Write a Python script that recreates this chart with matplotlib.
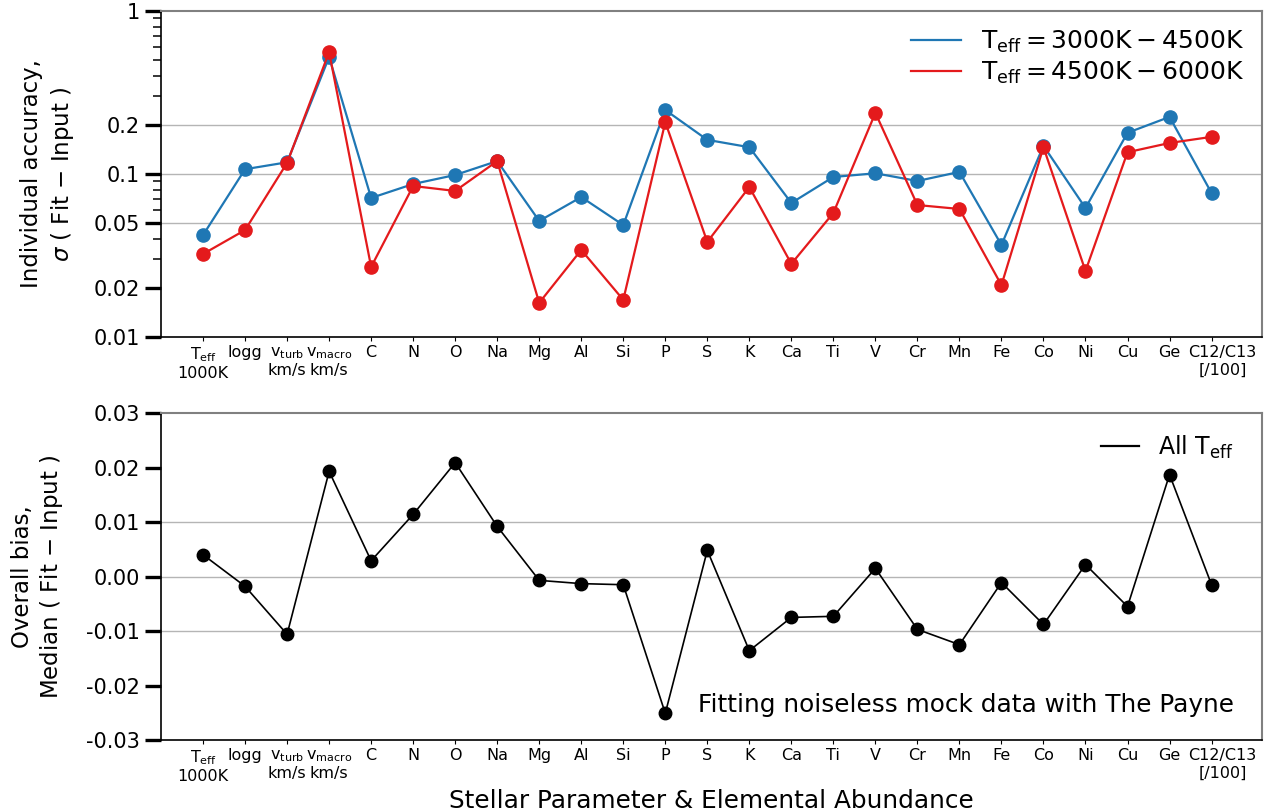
import matplotlib
matplotlib.use("Agg")
import matplotlib.pyplot as plt
from matplotlib.lines import Line2D
from matplotlib.ticker import FixedLocator, LogLocator, NullFormatter
from matplotlib.transforms import ScaledTranslation

# labels along the x axis
labels = [r"T$_{\rm eff}$" + "\n1000K", "logg", r"v$_{\rm turb}$" + "\nkm/s",
          r"v$_{\rm macro}$" + "\nkm/s", "C", "N", "O", "Na", "Mg", "Al", "Si",
          "P", "S", "K", "Ca", "Ti", "V", "Cr", "Mn", "Fe", "Co", "Ni", "Cu",
          "Ge", "C12/C13\n[/100]"]

# sigma(Fit - Input), cool and hot stars
cool = [0.0422, 0.107, 0.118, 0.522, 0.0713, 0.0868, 0.0986, 0.120, 0.0515,
        0.0722, 0.0486, 0.247, 0.162, 0.146, 0.0664, 0.0959, 0.101, 0.0906,
        0.103, 0.0367, 0.149, 0.0618, 0.179, 0.224, 0.0764]
hot = [0.0323, 0.0453, 0.117, 0.560, 0.0269, 0.0844, 0.0787, 0.120, 0.0162,
       0.0342, 0.0169, 0.208, 0.0383, 0.0832, 0.0281, 0.0577, 0.237, 0.0645,
       0.0610, 0.0208, 0.146, 0.0254, 0.136, 0.155, 0.169]

# median(Fit - Input), all stars
bias = [0.0040, -0.0018, -0.0106, 0.0193, 0.0029, 0.0114, 0.0209, 0.0092,
        -0.0007, -0.0013, -0.0015, -0.0251, 0.0048, -0.0136, -0.0075, -0.0073,
        0.0015, -0.0097, -0.0125, -0.0011, -0.0088, 0.0022, -0.0055, 0.0187,
        -0.0015]

top_ticks = [0.01, 0.02, 0.05, 0.1, 0.2, 1]
top_ticklabels = ["0.01", "0.02", "0.05", "0.1", "0.2", "1"]
bot_ticks = [-0.03, -0.02, -0.01, 0.0, 0.01, 0.02, 0.03]
bot_ticklabels = ["-0.03", "-0.02", "-0.01", "0.00", "0.01", "0.02", "0.03"]

x = list(range(len(labels)))
blue, red = "#1f77b4", "#e41a1c"

fig = plt.figure(figsize=(12.71, 8.11), dpi=100)
ax1 = fig.add_axes([0.1267, 0.5845, 0.8662, 0.4019])
ax2 = fig.add_axes([0.1267, 0.0875, 0.8662, 0.4032])


def style(ax):
    for s in ["top", "right"]:
        ax.spines[s].set_color("#808080")
        ax.spines[s].set_linewidth(1.5)
    for s in ["left", "bottom"]:
        ax.spines[s].set_linewidth(1.2)
    ax.tick_params(axis="y", which="major", length=11.5, width=2.4, labelsize=15, pad=3.5)
    ax.tick_params(axis="y", which="minor", length=5.5, width=1.1)
    ax.tick_params(axis="x", which="major", length=3, width=0.8, labelsize=11.5, pad=3)
    ax.set_xticks(x)
    ax.set_xticklabels(labels)
    ax.set_xlim(-1, 25.2)
    # the last label sits a bit to the right of its tick
    last = ax.get_xticklabels()[-1]
    last.set_transform(last.get_transform() + ScaledTranslation(0.11, 0, fig.dpi_scale_trans))


# top panel
for v in [0.05, 0.1, 0.2]:
    ax1.axhline(v, color="#b5b5b5", lw=1.0, zorder=0)
ax1.plot(x, cool, "-o", color=blue, lw=1.6, ms=9.5)
ax1.plot(x, hot, "-o", color=red, lw=1.6, ms=9.5)
ax1.set_yscale("log")
ax1.set_ylim(0.01, 1)
ax1.yaxis.set_major_locator(FixedLocator(top_ticks))
ax1.set_yticklabels(top_ticklabels)
ax1.yaxis.set_minor_locator(LogLocator(base=10, subs=range(2, 10)))
ax1.yaxis.set_minor_formatter(NullFormatter())
style(ax1)
ax1.set_ylabel("Individual accuracy,\n" + r"$\sigma$ ( Fit $-$ Input )", fontsize=16.5,
               labelpad=13, linespacing=1.3)
h1 = [Line2D([], [], color=blue, lw=1.6), Line2D([], [], color=red, lw=1.6)]
ax1.legend(h1, [r"$\rm T_{eff} = 3000K - 4500K$", r"$\rm T_{eff} = 4500K - 6000K$"],
           loc="upper right", frameon=False, fontsize=18, handlelength=2.0,
           handletextpad=0.8, borderaxespad=0.3, labelspacing=0.2)

# bottom panel
for v in [-0.01, 0.0, 0.01]:
    ax2.axhline(v, color="#b5b5b5", lw=1.0, zorder=0)
ax2.plot(x, bias, "-o", color="black", lw=1.2, ms=9)
ax2.set_ylim(-0.03, 0.03)
ax2.set_yticks(bot_ticks)
ax2.set_yticklabels(bot_ticklabels)
style(ax2)
ax2.set_ylabel("Overall bias,\nMedian ( Fit $-$ Input )", fontsize=16.5, labelpad=15)
ax2.set_xlabel("Stellar Parameter & Elemental Abundance", fontsize=17.8, labelpad=3)
ax2.legend([Line2D([], [], color="black", lw=1.6)], [r"All $\rm T_{eff}$"],
           loc="upper right", bbox_to_anchor=(1.0, 1.024), frameon=False,
           fontsize=17, handlelength=1.6, handletextpad=0.8, borderaxespad=0.8)
ax2.text(0.975, 0.107, "Fitting noiseless mock data with The Payne",
         transform=ax2.transAxes, ha="right", va="center", fontsize=17.8)

fig.savefig("out.png", dpi=100)
